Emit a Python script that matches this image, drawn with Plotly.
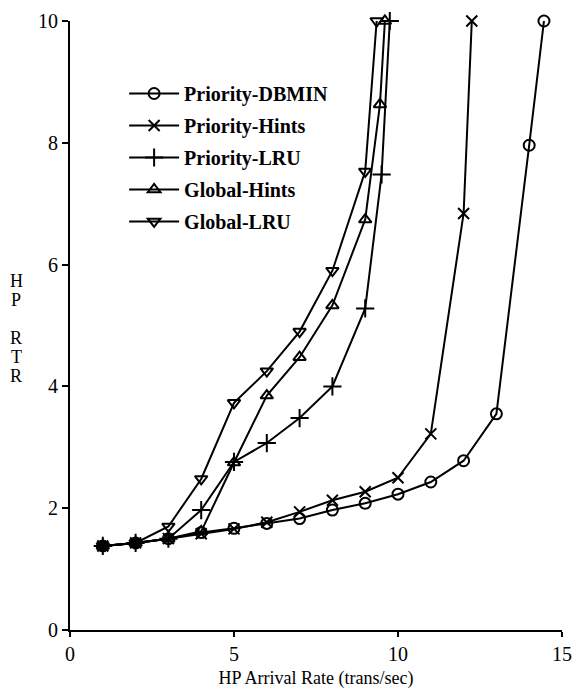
import plotly.graph_objects as go

# ---- data ----
dbmin_x = [1, 2, 3, 4, 5, 6, 7, 8, 9, 10, 11, 12, 13, 14, 14.45]
dbmin_y = [1.38, 1.43, 1.5, 1.6, 1.67, 1.75, 1.83, 1.97, 2.08, 2.23, 2.43, 2.78, 3.55, 7.96, 10]

phints_x = [1, 2, 3, 4, 5, 6, 7, 8, 9, 10, 11, 12, 12.25]
phints_y = [1.38, 1.43, 1.5, 1.58, 1.66, 1.77, 1.94, 2.13, 2.27, 2.5, 3.22, 6.84, 10]

plru_x = [1, 2, 3, 4, 5, 6, 7, 8, 9, 9.5, 9.75]
plru_y = [1.38, 1.43, 1.5, 1.97, 2.76, 3.07, 3.48, 4.0, 5.28, 7.48, 10]

ghints_x = [1, 2, 3, 4, 5, 6, 7, 8, 9, 9.45, 9.6]
ghints_y = [1.38, 1.43, 1.5, 1.62, 2.75, 3.85, 4.48, 5.33, 6.74, 8.63, 10]

glru_x = [1, 2, 3, 4, 5, 6, 7, 8, 9, 9.35]
glru_y = [1.38, 1.43, 1.7, 2.48, 3.73, 4.25, 4.9, 5.9, 7.53, 10]

x_ticks = [0, 5, 10, 15]
y_ticks = [0, 2, 4, 6, 8, 10]

y_title_letters = ["H", "P", "R", "T", "R"]

series = [
    ("Priority-DBMIN", dbmin_x, dbmin_y, "circle-open", 11),
    ("Priority-Hints", phints_x, phints_y, "x-thin-open", 11),
    ("Priority-LRU", plru_x, plru_y, "cross-thin-open", 13),
    ("Global-Hints", ghints_x, ghints_y, "triangle-up-open", 11),
    ("Global-LRU", glru_x, glru_y, "triangle-down-open", 11),
]

SERIF = "Liberation Serif, Times New Roman, serif"

fig = go.Figure()
for i, (name, xs, ys, sym, sz) in enumerate(series):
    fig.add_trace(go.Scatter(
        x=xs, y=ys, name=name, mode="lines+markers",
        legendgroup=f"g{i}",
        line=dict(color="black", width=2),
        marker=dict(symbol=sym, size=sz, color="black",
                    line=dict(color="black", width=2)),
        cliponaxis=False,
    ))

# vertical stacked y-axis title "HP RTR"
letter_px = [281, 300, 338, 357, 376]  # vertical centres in pixels from top
plot_top, plot_h = 18, 615
annots = []
for ch, py in zip(y_title_letters, letter_px):
    annots.append(dict(
        text=ch, xref="paper", yref="paper",
        x=(15 - 70) / 502, y=1 - (py - plot_top) / plot_h,
        xanchor="center", yanchor="middle", showarrow=False,
        font=dict(family=SERIF, size=18, color="black"),
    ))

fig.update_layout(
    width=582, height=695,
    margin=dict(l=70, r=10, t=18, b=62),
    paper_bgcolor="white", plot_bgcolor="white",
    font=dict(family=SERIF, size=17, color="black"),
    showlegend=True,
    legend=dict(
        x=0.11, y=0.913, xanchor="left", yanchor="top",
        bgcolor="rgba(0,0,0,0)",
        font=dict(family=SERIF, size=20, color="black", weight="bold"),
        traceorder="grouped", tracegroupgap=3,
        itemwidth=50,
    ),
    xaxis=dict(
        range=[0, 15], tickvals=x_ticks, ticktext=[str(v) for v in x_ticks],
        showgrid=False, zeroline=False, showline=True, linecolor="black",
        linewidth=2, ticks="outside", ticklen=5, tickwidth=1.5,
        tickcolor="black", tickfont=dict(family=SERIF, size=20),
        title=dict(text="HP Arrival Rate (trans/sec)", standoff=7,
                   font=dict(family=SERIF, size=18)),
    ),
    yaxis=dict(
        range=[0, 10], tickvals=y_ticks, ticktext=[str(v) for v in y_ticks],
        showgrid=False, zeroline=False, showline=True, linecolor="black",
        linewidth=2, ticks="outside", ticklen=6, tickwidth=1.5,
        tickcolor="black", tickfont=dict(family=SERIF, size=20),
    ),
    annotations=annots,
)

fig.write_html("out.html")
